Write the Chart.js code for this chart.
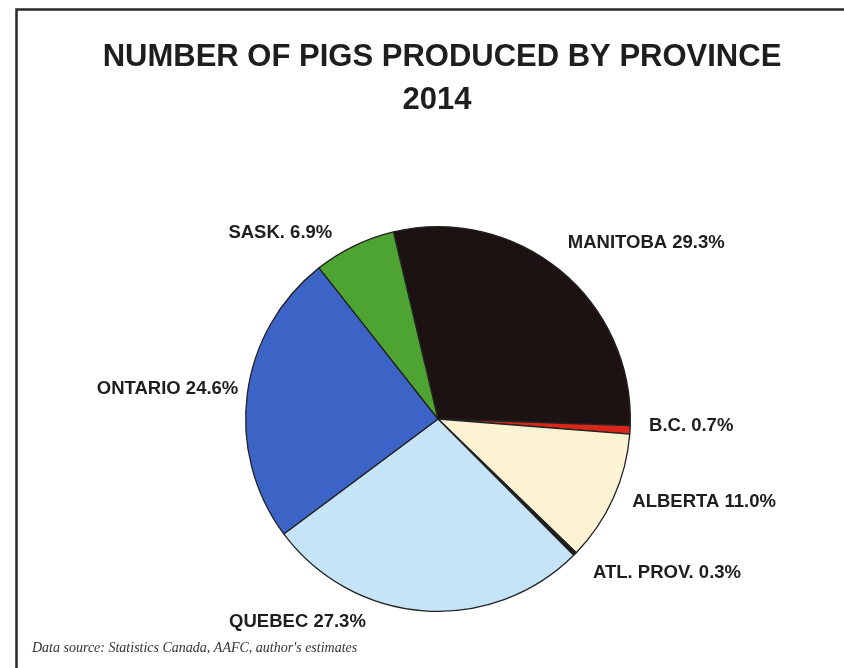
<!DOCTYPE html>
<html>
<head>
<meta charset="utf-8">
<script src="https://cdn.jsdelivr.net/npm/chart.js@4.4.1/dist/chart.umd.min.js"></script>
<style>
html,body{margin:0;padding:0;background:#fff;}
#wrap{width:844px;height:668px;position:relative;}
</style>
</head>
<body>
<div id="wrap"><canvas id="c" width="844" height="668"></canvas></div>
<script>
const titleLines = ["NUMBER OF PIGS PRODUCED BY PROVINCE", "2014"];
const categories = ["MANITOBA", "B.C.", "ALBERTA", "ATL. PROV.", "QUEBEC", "ONTARIO", "SASK."];
const shares = [29.3, 0.7, 11.0, 0.3, 27.3, 24.6, 6.9];
const sourceNote = "Data source: Statistics Canada, AAFC, author's estimates";

const sliceColors = ["#1c1212", "#d8261a", "#fcf3d2", "#1a1a1a", "#c6e4f7", "#3c63c6", "#4ea433"];
// label layout: [dx, dy, align] relative to slice's outer edge at mid-angle
const labelNudge = [[8,-27,"left"],[19,-4,"left"],[19,4,"left"],[18,19,"left"],[-58,11,"right"],[-9,-5,"right"],[-22,-13,"right"]];

const decor = {
  id: 'decor',
  beforeDraw(chart) {
    const ctx = chart.ctx;
    ctx.save();
    ctx.fillStyle = '#fff';
    ctx.fillRect(0,0,chart.width,chart.height);
    ctx.strokeStyle = '#2a2a2a';
    ctx.lineWidth = 2.5;
    ctx.beginPath();
    ctx.moveTo(16.5, 668);
    ctx.lineTo(16.5, 9.5);
    ctx.lineTo(844, 9.5);
    ctx.stroke();
    ctx.fillStyle = '#1e1e1e';
    ctx.textAlign = 'center';
    ctx.textBaseline = 'middle';
    ctx.font = 'bold 31px "Liberation Sans", Arial, sans-serif';
    ctx.fillText(titleLines[0], 442, 57);
    ctx.fillText(titleLines[1], 437, 100);
    ctx.font = 'italic 14px "Liberation Serif", "Times New Roman", serif';
    ctx.textAlign = 'left';
    ctx.fillStyle = '#333';
    ctx.fillText(sourceNote, 32, 648);
    ctx.restore();
  },
  afterDatasetsDraw(chart) {
    const ctx = chart.ctx;
    const meta = chart.getDatasetMeta(0);
    ctx.save();
    ctx.fillStyle = '#1e1e1e';
    ctx.textBaseline = 'middle';
    ctx.font = 'bold 18.5px "Liberation Sans", Arial, sans-serif';
    meta.data.forEach((arc, i) => {
      const p = arc.getProps(['x','y','startAngle','endAngle','outerRadius'], true);
      const mid = (p.startAngle + p.endAngle) / 2;
      const x = p.x + Math.cos(mid) * p.outerRadius + labelNudge[i][0];
      const y = p.y + Math.sin(mid) * p.outerRadius + labelNudge[i][1];
      ctx.textAlign = labelNudge[i][2];
      ctx.fillText(categories[i] + ' ' + shares[i].toFixed(1) + '%', x, y);
    });
    ctx.restore();
  }
};

new Chart(document.getElementById('c'), {
  type: 'pie',
  data: {
    labels: categories,
    datasets: [{
      data: shares,
      backgroundColor: sliceColors,
      borderColor: '#222',
      borderWidth: 1.3
    }]
  },
  options: {
    responsive: false,
    animation: false,
    rotation: -13.4,
    layout: { padding: { top: 226, bottom: 56, left: 245, right: 213 } },
    plugins: { legend: { display: false }, tooltip: { enabled: false }, title: { display: false } }
  },
  plugins: [decor]
});
</script>
</body>
</html>
